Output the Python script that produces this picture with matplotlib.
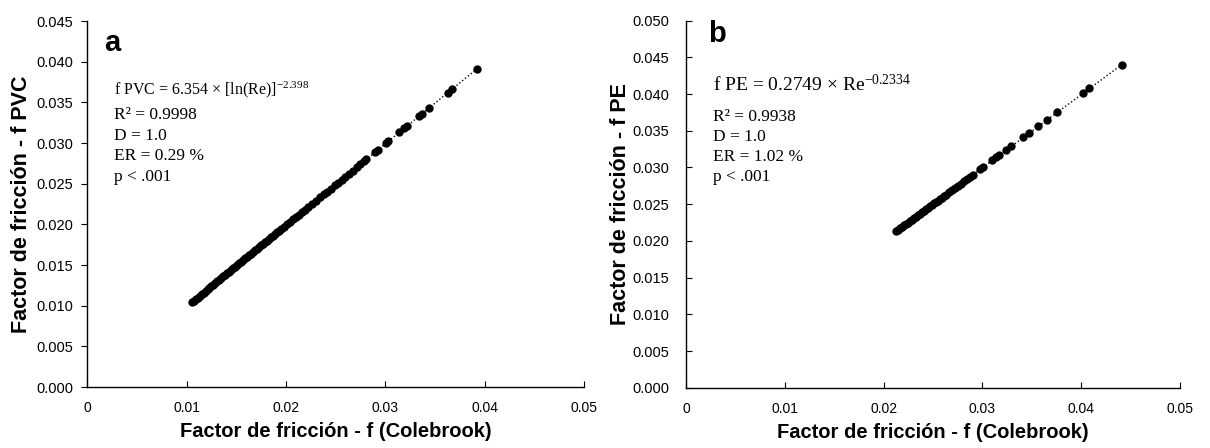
import matplotlib
matplotlib.use('Agg')
import matplotlib.pyplot as plt
from matplotlib.ticker import FormatStrFormatter, FixedFormatter, FixedLocator

plt.rcParams['font.family'] = ['Liberation Sans', 'DejaVu Sans']
plt.rcParams['mathtext.fontset'] = 'custom'
plt.rcParams['mathtext.rm'] = 'Liberation Serif'
plt.rcParams['mathtext.it'] = 'Liberation Serif:italic'

# panel a: PVC vs Colebrook
pvc_cb = [0.0105, 0.0107, 0.0109, 0.0111, 0.0113, 0.0115, 0.0117, 0.0119, 0.0121, 0.0123,
          0.0125, 0.0127, 0.0129, 0.0131, 0.0133, 0.0135, 0.0137, 0.0139, 0.0141, 0.0143,
          0.0145, 0.0147, 0.0149, 0.0151, 0.0153, 0.0155, 0.0157, 0.0159, 0.0161, 0.0163,
          0.0165, 0.0167, 0.0169, 0.0171, 0.0173, 0.0175, 0.0177, 0.0179, 0.0181, 0.0183,
          0.0185, 0.0187, 0.0189, 0.0191, 0.0193, 0.0195, 0.0198, 0.0201, 0.0204, 0.0207,
          0.0210, 0.0213, 0.0216, 0.0219, 0.0222, 0.0226, 0.0230, 0.0234, 0.0238, 0.0241,
          0.0245, 0.0249, 0.0252, 0.0256, 0.0259, 0.0263, 0.0267, 0.0271, 0.0275, 0.0279,
          0.0281, 0.0290, 0.0293, 0.0301, 0.0303, 0.0314, 0.0319, 0.0322, 0.0334, 0.0337,
          0.0344, 0.0363, 0.0367, 0.0392]
pvc_f = [0.0104, 0.0106, 0.0108, 0.0110, 0.0112, 0.0114, 0.0116, 0.0118, 0.0120, 0.0122,
         0.0124, 0.0126, 0.0128, 0.0130, 0.0132, 0.0134, 0.0136, 0.0138, 0.0140, 0.0142,
         0.0144, 0.0146, 0.0148, 0.0150, 0.0152, 0.0154, 0.0156, 0.0158, 0.0160, 0.0162,
         0.0164, 0.0166, 0.0168, 0.0170, 0.0172, 0.0174, 0.0176, 0.0178, 0.0180, 0.0182,
         0.0184, 0.0186, 0.0188, 0.0190, 0.0192, 0.0194, 0.0197, 0.0200, 0.0203, 0.0206,
         0.0209, 0.0212, 0.0215, 0.0218, 0.0221, 0.0225, 0.0229, 0.0233, 0.0237, 0.0240,
         0.0244, 0.0248, 0.0251, 0.0255, 0.0258, 0.0262, 0.0266, 0.0270, 0.0274, 0.0278,
         0.0280, 0.0289, 0.0292, 0.0300, 0.0302, 0.0313, 0.0318, 0.0321, 0.0333, 0.0336,
         0.0343, 0.0362, 0.0366, 0.0391]

# panel b: PE vs Colebrook
pe_cb = [0.0213, 0.0215, 0.0217, 0.0219, 0.0221, 0.0223, 0.0225, 0.0227, 0.0229, 0.0231,
         0.0233, 0.0235, 0.0237, 0.0239, 0.0241, 0.0243, 0.0245, 0.0247, 0.0249, 0.0251,
         0.0253, 0.0255, 0.0257, 0.0259, 0.0261, 0.0263, 0.0266, 0.0269, 0.0272, 0.0275,
         0.0278, 0.0281, 0.0284, 0.0287, 0.0290, 0.0298, 0.0301, 0.0310, 0.0314, 0.0317,
         0.0324, 0.0329, 0.0341, 0.0347, 0.0356, 0.0365, 0.0375, 0.0402, 0.0408, 0.0441]
pe_f = [0.0213, 0.0215, 0.0217, 0.0219, 0.0221, 0.0223, 0.0225, 0.0227, 0.0229, 0.0231,
        0.0233, 0.0235, 0.0237, 0.0239, 0.0241, 0.0243, 0.0245, 0.0247, 0.0249, 0.0251,
        0.0253, 0.0255, 0.0257, 0.0259, 0.0261, 0.0263, 0.0266, 0.0269, 0.0272, 0.0275,
        0.0278, 0.0281, 0.0284, 0.0287, 0.0290, 0.0298, 0.0301, 0.0310, 0.0314, 0.0317,
        0.0324, 0.0329, 0.0341, 0.0347, 0.0356, 0.0365, 0.0375, 0.0402, 0.0408, 0.0440]

x_ticks = [0, 0.01, 0.02, 0.03, 0.04, 0.05]
x_labels = ['0', '0.01', '0.02', '0.03', '0.04', '0.05']

W, H = 1210, 448
fig = plt.figure(figsize=(W / 100, H / 100), dpi=100)
ax1 = fig.add_axes([87.3 / W, 1 - 387 / H, (584 - 87.3) / W, (387 - 21) / H])
ax2 = fig.add_axes([686 / W, 1 - 387.7 / H, (1180 - 686) / W, (387.7 - 20.7) / H])


def style(ax, ymax, ystep, ydir, ypad):
    ax.set_xlim(0, 0.05)
    ax.set_ylim(0, ymax)
    for s in ['top', 'right']:
        ax.spines[s].set_visible(False)
    for s in ['left', 'bottom']:
        ax.spines[s].set_linewidth(1.0)
    ax.xaxis.set_major_locator(FixedLocator(x_ticks))
    ax.xaxis.set_major_formatter(FixedFormatter(x_labels))
    n = int(round(ymax / ystep))
    ax.set_yticks([i * ystep for i in range(n + 1)])
    ax.yaxis.set_major_formatter(FormatStrFormatter('%.3f'))
    ax.tick_params(axis='x', direction='in', length=4, labelsize=10, pad=10)
    ax.tick_params(axis='y', direction=ydir, length=4, labelsize=10.5, pad=ypad)
    ax.set_xlabel('Factor de fricción - f (Colebrook)', fontsize=14.5, fontweight='bold', labelpad=5)


def scatter(ax, xs, ys):
    ax.plot([xs[0], xs[-1]], [ys[0], ys[-1]], ls=':', color='black', lw=1.0, zorder=1)
    ax.plot(xs, ys, 'o', color='black', ms=5, mec='black', zorder=2)


style(ax1, 0.045, 0.005, 'out', 6)
style(ax2, 0.050, 0.005, 'in', 12)
scatter(ax1, pvc_cb, pvc_f)
scatter(ax2, pe_cb, pe_f)
ax1.set_ylabel('Factor de fricción - f PVC', fontsize=15.5, fontweight='bold', labelpad=3)
ax2.set_ylabel('Factor de fricción - f PE', fontsize=15.5, fontweight='bold', labelpad=1)


def ftext(x, y, s, **kw):
    fig.text(x / W, 1 - y / H, s, va='center', ha='left', **kw)


serif = ['Liberation Serif', 'DejaVu Serif']
ftext(104, 43, 'a', fontsize=21, fontweight='bold')
ftext(708, 34, 'b', fontsize=21, fontweight='bold')

ftext(114, 90, 'f PVC = 6.354 × [ln(Re)]$^{-2.398}$', fontsize=11.5, family=serif)
for i, s in enumerate(['R² = 0.9998', 'D = 1.0', 'ER = 0.29 %', 'p < .001']):
    ftext(114, 115 + i * 20.7, s, fontsize=12.5, family=serif)

ftext(713, 84, 'f PE = 0.2749 × Re$^{-0.2334}$', fontsize=14, family=serif)
for i, s in enumerate(['R² = 0.9938', 'D = 1.0', 'ER = 1.02 %', 'p < .001']):
    ftext(713, 116.7 + i * 20, s, fontsize=12.5, family=serif)

fig.savefig('out.png', dpi=100)
